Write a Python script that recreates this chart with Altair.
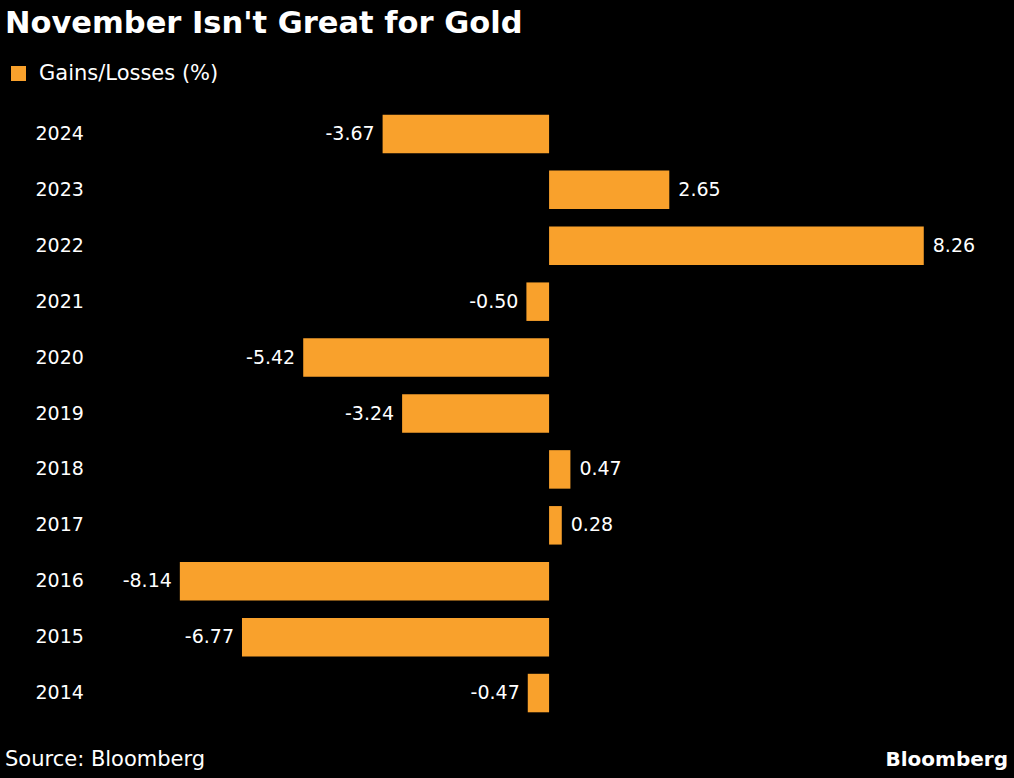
import altair as alt
import pandas as pd

years = ["2024", "2023", "2022", "2021", "2020", "2019", "2018", "2017", "2016", "2015", "2014"]
changes = [-3.67, 2.65, 8.26, -0.50, -5.42, -3.24, 0.47, 0.28, -8.14, -6.77, -0.47]
series_name = "Gains/Losses (%)"

ORANGE = "#f9a12c"
FONT = "DejaVu Sans"

df = pd.DataFrame({"year": years, "value": changes, "series": series_name})
df["label"] = df["value"].map(lambda v: f"{v:.2f}")

y_enc = alt.Y(
    "year:N",
    sort=years,
    title=None,
    scale=alt.Scale(paddingInner=0.31, paddingOuter=0.155),
    axis=alt.Axis(
        orient="left",
        labelAlign="left",
        labelPadding=65,
        labelFont=FONT,
        labelFontSize=19,
        labelColor="#ffffff",
        ticks=False,
        domain=False,
        grid=False,
    ),
)
x_scale = alt.Scale(domain=[-9.9, 9.72], nice=False, zero=False)

bars = alt.Chart(df).mark_bar(size=38.5).encode(
    y=y_enc,
    x=alt.X("value:Q", scale=x_scale, axis=None),
    x2=alt.datum(0),
    color=alt.Color(
        "series:N",
        scale=alt.Scale(domain=[series_name], range=[ORANGE]),
        legend=alt.Legend(
            title=None,
            orient="none",
            legendX=-92,
            legendY=-43,
            symbolType="square",
            symbolSize=225,
            symbolStrokeWidth=0,
            labelFont=FONT,
            labelFontSize=21,
            labelColor="#ffffff",
            labelOffset=10,
            labelLimit=400,
        ),
    ),
)

pos_labels = alt.Chart(df).transform_filter("datum.value >= 0").mark_text(
    align="left", baseline="middle", dx=9, font=FONT, fontSize=19, color="#ffffff"
).encode(y=alt.Y("year:N", sort=years), x=alt.X("value:Q", scale=x_scale), text="label:N")

neg_labels = alt.Chart(df).transform_filter("datum.value < 0").mark_text(
    align="right", baseline="middle", dx=-8, font=FONT, fontSize=19, color="#ffffff"
).encode(y=alt.Y("year:N", sort=years), x=alt.X("value:Q", scale=x_scale), text="label:N")

source = alt.Chart(df.head(1)).mark_text(
    align="left", baseline="alphabetic", font=FONT, fontSize=21, color="#ffffff", text="Source: Bloomberg"
).encode(x=alt.value(-95), y=alt.value(660))

brand = alt.Chart(df.head(1)).mark_text(
    align="right", baseline="alphabetic", font=FONT, fontSize=20, fontWeight="bold",
    color="#ffffff", text="Bloomberg"
).encode(x=alt.value(908), y=alt.value(660))

chart = (
    alt.layer(bars, pos_labels, neg_labels, source, brand)
    .properties(
        width=890,
        height=615,
        autosize=alt.AutoSizeParams(type="none"),
        padding={"left": 100, "top": 106, "right": 24, "bottom": 57},
        background="#000000",
        title=alt.TitleParams(
            "November Isn't Great for Gold",
            anchor="start",
            frame="group",
            font=FONT,
            fontSize=30.5,
            fontWeight="bold",
            color="#ffffff",
            baseline="alphabetic",
            dx=-95,
            offset=0,
        ),
    )
    .configure_view(stroke=None)
)

chart.save("out.html", embed_options={"renderer": "svg", "actions": False})
